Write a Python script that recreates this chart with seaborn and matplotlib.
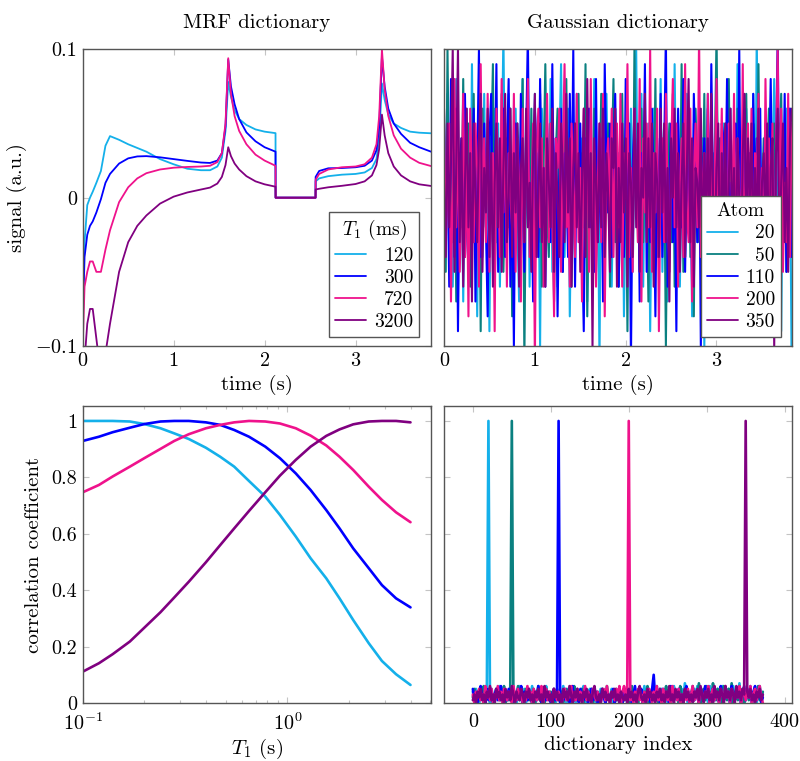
import numpy as np
import pandas as pd
import matplotlib
matplotlib.use("Agg")
import matplotlib.pyplot as plt
from matplotlib.ticker import NullFormatter
import seaborn as sns

# ---------------- data ----------------
# MRF dictionary signals (a.u.) sampled at these times (s)
mrf_time = [0, 0.02, 0.05, 0.08, 0.11, 0.15, 0.2, 0.25, 0.3, 0.4, 0.5, 0.6, 0.7, 0.85,
            1.0, 1.15, 1.3, 1.4, 1.48, 1.53, 1.57, 1.6, 1.63, 1.67, 1.72, 1.8, 1.9, 2.0,
            2.12, 2.121, 2.56, 2.561, 2.6, 2.7, 2.85, 3.0, 3.1, 3.18, 3.23, 3.26, 3.29,
            3.32, 3.36, 3.42, 3.5, 3.6, 3.7, 3.83]
mrf_t1_labels = ["120", "300", "720", "3200"]
mrf_120 = [-0.065, -0.03, -0.005, 0.0, 0.004, 0.01, 0.018, 0.035, 0.0415, 0.039, 0.036,
           0.0335, 0.031, 0.026, 0.0225, 0.0195, 0.0185, 0.0185, 0.021, 0.027, 0.045, 0.078,
           0.068, 0.059, 0.053, 0.049, 0.046, 0.0445, 0.0435, 0.0, 0.0, 0.011, 0.013, 0.0145,
           0.0155, 0.016, 0.017, 0.02, 0.026, 0.04, 0.077, 0.066, 0.056, 0.05, 0.047, 0.0445,
           0.0438, 0.0434]
mrf_300 = [-0.085, -0.04, -0.025, -0.019, -0.016, -0.01, -0.001, 0.01, 0.016, 0.023, 0.0265,
           0.0278, 0.028, 0.0272, 0.026, 0.0248, 0.0237, 0.0234, 0.025, 0.03, 0.048, 0.093,
           0.075, 0.063, 0.053, 0.044, 0.038, 0.034, 0.031, 0.0, 0.0, 0.014, 0.018, 0.0198,
           0.02, 0.0205, 0.0215, 0.025, 0.032, 0.048, 0.095, 0.075, 0.06, 0.05, 0.043, 0.037,
           0.034, 0.031]
mrf_720 = [-0.1, -0.06, -0.05, -0.043, -0.043, -0.05, -0.05, -0.035, -0.022, -0.003, 0.007,
           0.013, 0.0165, 0.019, 0.0202, 0.0207, 0.021, 0.0215, 0.024, 0.03, 0.05, 0.094,
           0.07, 0.055, 0.045, 0.036, 0.029, 0.025, 0.0215, 0.0, 0.0, 0.012, 0.016, 0.019,
           0.0205, 0.021, 0.0225, 0.027, 0.036, 0.055, 0.1, 0.073, 0.055, 0.042, 0.033, 0.027,
           0.0235, 0.0213]
mrf_3200 = [-0.16, -0.11, -0.085, -0.075, -0.075, -0.095, -0.12, -0.105, -0.085, -0.05, -0.03,
            -0.019, -0.012, -0.004, 0.0007, 0.0035, 0.0055, 0.0068, 0.0095, 0.014, 0.022, 0.034,
            0.028, 0.023, 0.019, 0.0145, 0.011, 0.009, 0.0074, 0.0, 0.0, 0.0055, 0.006, 0.007,
            0.008, 0.0092, 0.011, 0.015, 0.022, 0.033, 0.056, 0.042, 0.03, 0.021, 0.015, 0.011,
            0.009, 0.0079]

# Gaussian dictionary atoms (signal in units of 0.01 a.u.), spanning 0..3.83 s
gauss_duration = 3.83
gauss_scale = 0.01
atom_labels = ["20", "50", "110", "200", "350"]
gauss_20 = [-4, 3, 7, -2, 5, -6, 1, 8, -3, 0, 4, -7, 2, 6, -1, -5, 9, -3, 2, -8,
            5, 1, -4, 7, -2, 3, -9, 4, 0, 6, -3, 5, -6, 2, 11, -1, -4, 7, 3, -5,
            1, 6, -2, -7, 4, 8, -3, 0, 5, -6, 2, -1, 7, -4, 3, -10, 6, 1, -3, 5,
            -2, 8, -5, 0, 4, -6, 3, 9, -1, -4, 2, 6, -8, 1, 5, -3, 7, -2, 0, 4,
            -5, 3, -7, 6, 1, -2, 8, -4, 2, -11, 5, 0, -3, 7, -1, 4, -6, 2, 6, -3,
            3, -2, 5, -8, 1, 4, -1, 6, -5, 2, 10, -3, 0, 7, -6, 3, -2, 5, -9, 1,
            6, -4, 2, -1, 8, -5, 3, 0, -7, 4, 1, -3, 9, -2, 5, -6, 2, 4, -4, 7,
            -1, 3, -8, 5, 0, -3, 6, -2, 4, -10, 2, 7, -5, 1, 3, -6, 8, -1, 4, -3,
            5, -7, 2, 0, 6, -4, 3, -2, 9, -5, 1, 4, -8, 6, -1, 2, -3, 7, -6, 11,
            -2, 4, -5, 3, 1, -7, 6, -3, 2, 8, -4, 0, 5, -9, 3, -1, 6, -2, 4, -12]
gauss_50 = [2, -5, 10, -1, 4, -3, 6, -7, 1, 3, -2, 8, -4, 0, 5, -6, 2, 7, -3, -1,
            4, -9, 6, 1, -2, 5, -4, 3, 9, -6, 0, 2, -3, 7, -5, 1, 4, -2, 6, -8,
            3, -1, 5, 2, -4, 8, -11, 3, 0, -2, 6, -5, 4, 1, -3, 7, -6, 2, 9, -1,
            -4, 5, 0, -7, 3, 6, -2, 1, -5, 4, 8, -3, 2, -6, 0, 5, -1, 7, -4, 3,
            -2, 9, -8, 1, 4, -3, 6, -5, 2, 0, 7, -4, 3, -1, 5, -6, 2, 8, -3, 4,
            -6, 1, 7, -2, 3, -9, 5, 0, -4, 10, -1, 2, -5, 6, -3, 4, 1, -7, 3, 5,
            -2, 8, -4, 0, 6, -1, 3, -10, 2, 5, -3, 7, -6, 1, 4, -2, 9, -5, 3, 0,
            5, -4, 2, -8, 6, 1, -3, 4, -1, 7, -5, 2, 0, 6, -7, 3, 11, -2, 4, -6,
            1, 5, -3, 8, -2, 0, 4, -9, 6, -1, 3, -5, 2, 7, -4, 1, -6, 5, 3, -2,
            9, -3, 0, 4, -7, 2, 6, -1, -4, 5, 1, -8, 3, 7, -2, 4, -5, 0, 6, -3]
gauss_110 = [5, -2, 3, -6, 8, 1, -4, 6, -9, 2, 4, -3, 7, -1, -5, 3, 0, 6, -7, 2,
             10, -4, 1, 5, -2, -8, 4, 7, -3, 0, 9, -5, 2, -1, 6, -4, 3, 8, -6, 1,
             -10, 5, 2, -3, 7, 0, -5, 4, 11, -2, 1, -7, 6, 3, -4, 8, -1, 2, -6, 5,
             0, -3, 9, -2, 4, -8, 1, 6, -5, 3, 2, -4, 7, -1, 10, -6, 3, 0, 5, -3,
             -9, 4, 2, 6, -2, 1, -5, 8, -3, 0, 4, -7, 9, 2, -1, 5, -4, 3, 7, -2,
             -6, 3, 1, -4, 8, -2, 5, -11, 2, 6, -1, 4, -7, 3, 0, 9, -5, 2, -3, 6,
             1, -8, 4, -2, 7, -4, 3, 11, -6, 1, 5, -3, 2, -9, 6, 0, -2, 8, -5, 3,
             -1, 4, -6, 7, 2, -3, 5, -10, 1, 4, -2, 6, -4, 9, 0, -5, 3, 2, -7, 5,
             4, -1, 8, -3, 1, -6, 3, 5, -2, 10, -4, 0, 6, -8, 2, 3, -5, 7, -1, 4,
             -3, 6, -9, 2, 5, -4, 1, 8, -2, -6, 3, 11, -3, 4, -1, 7, -5, 2, 6, -4]
gauss_200 = [6, -3, 1, 5, -7, 2, 8, -2, 4, -5, 0, 7, -4, 3, -8, 6, 1, -3, 5, 2,
             -6, 9, -1, 4, -3, 7, -5, 0, 3, -9, 6, 2, -4, 8, -1, 5, -6, 3, 0, -2,
             7, -5, 4, 1, -7, 6, -3, 2, 8, -4, 0, 5, -11, 3, 6, -2, 4, -6, 1, 7,
             -3, 5, -1, -8, 4, 2, 6, -5, 3, 9, -2, 0, -6, 5, 1, -4, 7, -3, 2, -7,
             6, 0, 4, -5, 8, -2, 3, -6, 1, 5, -3, 7, -8, 2, 4, -1, 6, -4, 3, 5,
             -2, 7, -6, 3, 0, 9, -4, 2, -5, 6, 1, -3, 8, -7, 4, -1, 5, -2, 10, -5,
             3, -1, 6, -9, 2, 4, -3, 7, 0, -5, 3, 8, -2, 5, -6, 1, 4, -4, 9, -1,
             -3, 6, -7, 2, 5, -2, 11, -4, 1, 3, -6, 7, -1, 4, -5, 2, 8, -3, 0, 6,
             -4, 2, -8, 5, 3, -1, 7, -5, 4, 0, -3, 9, -6, 2, 5, -2, 6, -9, 3, 1,
             7, -4, 2, -6, 8, -1, 4, -3, 5, -7, 3, 10, -2, 6, -5, 1, -3, 7, -4, 5]
gauss_350 = [1, -4, 5, -2, 3, 10, -5, 2, 10, -3, 4, -6, 1, 6, -2, 3, -7, 5, 0, -3,
             4, 7, -5, 2, -1, 6, -4, 3, -6, 1, 5, -2, 4, -5, 2, 7, -3, 0, 6, -4,
             3, -1, 5, -6, 2, 4, -3, 6, -2, 1, -5, 3, 7, -4, 0, 5, -3, 2, -6, 4,
             1, -2, 6, -5, 3, 0, -4, 5, 2, -3, 7, -1, 4, -6, 2, 5, -2, 3, -5, 1,
             6, -4, 8, -2, 3, -10, 4, 1, -3, 5, -2, 6, -4, 3, 0, -5, 4, 2, 6, -6,
             2, -3, 5, -1, 4, -6, 3, 1, -4, 6, -2, 5, -5, 2, 0, 7, -3, 4, -2, 5,
             -6, 3, 1, -4, 6, -1, 5, -3, 2, -7, 4, 0, 6, -2, 3, -5, 1, 5, -4, 2,
             8, -3, 4, -6, 2, 1, -2, 6, -5, 3, -1, 4, -3, 7, 0, -4, 2, 5, -6, 3,
             -2, 5, -4, 1, 6, -3, 2, -5, 4, 0, -6, 3, 7, -2, 4, -1, 5, -4, 2, -3,
             6, -5, 1, 3, -2, 5, -7, 2, 4, -10, 3, 6, -4, 1, 5, -3, 2, -5, 4, 6]

# MRF correlation coefficient vs T1 (s)
corr_t1 = [0.1, 0.12, 0.14, 0.17, 0.2, 0.24, 0.28, 0.33, 0.4, 0.47, 0.55, 0.65, 0.78,
           0.92, 1.1, 1.3, 1.55, 1.8, 2.1, 2.5, 2.9, 3.4, 4.0]
corr_120 = [1.0, 1.0, 1.0, 0.998, 0.989, 0.974, 0.956, 0.936, 0.905, 0.873, 0.838, 0.787,
            0.732, 0.667, 0.590, 0.513, 0.442, 0.371, 0.294, 0.212, 0.149, 0.102, 0.064]
corr_300 = [0.929, 0.944, 0.960, 0.976, 0.989, 0.998, 1.0, 1.0, 0.995, 0.986, 0.968, 0.944,
            0.909, 0.868, 0.814, 0.755, 0.684, 0.619, 0.548, 0.478, 0.418, 0.371, 0.339]
corr_720 = [0.747, 0.773, 0.803, 0.838, 0.868, 0.901, 0.929, 0.953, 0.974, 0.986, 0.995, 1.0,
            0.998, 0.991, 0.974, 0.948, 0.913, 0.873, 0.826, 0.767, 0.720, 0.676, 0.641]
corr_3200 = [0.111, 0.141, 0.173, 0.218, 0.267, 0.322, 0.374, 0.430, 0.499, 0.560, 0.619,
             0.681, 0.747, 0.806, 0.862, 0.909, 0.947, 0.970, 0.988, 0.998, 1.0, 1.0, 0.995]

# Gaussian correlation vs dictionary index (units of 0.01), every 2nd index
index_step = 2
atoms = [20, 50, 110, 200, 350]
gcorr_20 = [4, 1, 5, 2, 0, 3, 5, 1, 4, 6, 3, 0, 5, 2, 1, 4, 3, 6, 1, 5,
            2, 0, 4, 3, 1, 5, 2, 4, 0, 3, 6, 1, 3, 5, 0, 2, 4, 1, 6, 3,
            0, 4, 2, 5, 1, 3, 0, 6, 2, 4, 1, 3, 5, 0, 2, 4, 1, 3, 6, 2,
            0, 5, 3, 1, 4, 2, 0, 5, 3, 1, 4, 6, 2, 0, 3, 5, 1, 4, 2, 0,
            3, 1, 5, 2, 4, 0, 3, 1, 2, 5, 0, 3, 1, 4, 2, 0, 3, 5, 1, 2,
            4, 0, 3, 1, 5, 2, 0, 4, 3, 1, 6, 2, 0, 5, 3, 1, 4, 2, 6, 0,
            3, 5, 1, 4, 2, 0, 5, 3, 1, 6, 2, 4, 0, 3, 5, 1, 7, 2, 0, 4,
            3, 1, 5, 2, 6, 0, 4, 3, 1, 5, 2, 0, 6, 3, 1, 4, 2, 5, 0, 3,
            6, 1, 4, 2, 5, 0, 3, 6, 1, 4, 2, 7, 0, 3, 5, 1, 4, 2, 6, 1,
            3, 5, 0, 4, 6, 2, 3]
gcorr_50 = [2, 5, 0, 3, 1, 4, 2, 6, 0, 3, 5, 1, 4, 2, 0, 5, 3, 1, 4, 2,
            6, 0, 3, 1, 5, 2, 4, 0, 3, 6, 1, 4, 2, 0, 5, 3, 1, 4, 2, 5,
            0, 3, 6, 1, 2, 4, 0, 5, 3, 1, 4, 2, 0, 3, 5, 1, 2, 4, 0, 3,
            5, 1, 4, 2, 0, 6, 3, 1, 4, 2, 5, 0, 3, 1, 4, 2, 5, 0, 3, 1,
            4, 2, 0, 5, 3, 1, 6, 2, 0, 4, 3, 1, 5, 2, 0, 3, 4, 1, 5, 2,
            0, 3, 6, 1, 4, 2, 0, 5, 3, 1, 4, 2, 6, 0, 3, 5, 1, 4, 2, 0,
            5, 3, 1, 4, 6, 2, 0, 3, 5, 1, 4, 2, 0, 6, 3, 1, 5, 2, 4, 0,
            3, 6, 1, 4, 2, 7, 0, 3, 5, 1, 6, 2, 4, 0, 7, 3, 1, 5, 2, 4,
            0, 6, 3, 1, 5, 2, 7, 0, 4, 3, 1, 6, 2, 5, 0, 3, 4, 1, 5, 2,
            4, 0, 3, 6, 1, 2, 4]
gcorr_110 = [5, 1, 3, 0, 4, 6, 2, 3, 0, 5, 1, 4, 2, 0, 3, 5, 1, 4, 6, 2,
             0, 3, 1, 5, 2, 4, 0, 3, 1, 5, 2, 6, 0, 4, 3, 1, 5, 2, 0, 4,
             3, 1, 6, 2, 0, 5, 3, 1, 4, 2, 0, 3, 5, 1, 4, 2, 0, 3, 1, 5,
             2, 4, 0, 3, 6, 1, 4, 2, 0, 5, 3, 1, 4, 2, 0, 3, 5, 1, 2, 4,
             0, 3, 1, 5, 2, 0, 4, 3, 1, 2, 5, 0, 3, 4, 1, 2, 0, 5, 3, 1,
             4, 2, 0, 3, 6, 1, 4, 2, 5, 0, 3, 1, 4, 2, 0, 5, 10, 1, 4, 2,
             0, 3, 5, 1, 4, 2, 0, 6, 3, 1, 4, 2, 5, 0, 3, 1, 4, 6, 2, 0,
             3, 5, 1, 4, 2, 0, 5, 3, 1, 6, 2, 4, 0, 3, 5, 1, 4, 2, 0, 6,
             3, 1, 5, 2, 4, 0, 6, 3, 1, 5, 2, 4, 0, 3, 6, 1, 5, 2, 3, 0,
             4, 6, 1, 3, 5, 0, 2]
gcorr_200 = [3, 0, 4, 2, 5, 1, 3, 0, 6, 2, 4, 1, 5, 0, 3, 2, 6, 1, 4, 0,
             5, 3, 1, 4, 2, 0, 6, 3, 1, 5, 2, 4, 0, 3, 1, 6, 2, 4, 0, 5,
             3, 1, 4, 2, 6, 0, 3, 5, 1, 4, 2, 0, 5, 3, 1, 4, 2, 0, 3, 5,
             1, 4, 2, 6, 0, 3, 1, 5, 2, 4, 0, 3, 6, 1, 4, 2, 0, 5, 3, 1,
             4, 2, 0, 3, 5, 1, 6, 2, 0, 4, 3, 1, 5, 2, 6, 0, 4, 6, 3, 2,
             5, 1, 3, 0, 4, 2, 5, 1, 3, 0, 4, 2, 1, 5, 3, 0, 4, 2, 6, 1,
             3, 0, 5, 2, 4, 1, 3, 0, 6, 2, 4, 1, 5, 0, 3, 2, 4, 1, 5, 0,
             3, 6, 1, 4, 2, 0, 5, 3, 1, 4, 2, 6, 0, 3, 5, 1, 4, 2, 0, 5,
             3, 1, 6, 2, 4, 0, 5, 3, 1, 4, 2, 6, 0, 3, 5, 1, 4, 2, 6, 0,
             3, 5, 1, 4, 6, 2, 0]
gcorr_350 = [1, 3, 0, 4, 2, 5, 1, 3, 0, 4, 2, 6, 1, 3, 0, 5, 2, 4, 1, 3,
             0, 5, 2, 4, 1, 6, 3, 0, 4, 2, 1, 5, 3, 0, 4, 2, 5, 1, 3, 0,
             4, 2, 5, 1, 3, 0, 6, 2, 4, 1, 3, 0, 5, 2, 4, 1, 3, 0, 5, 2,
             4, 1, 6, 3, 0, 4, 2, 5, 1, 3, 0, 4, 2, 5, 1, 3, 0, 4, 6, 2,
             1, 3, 0, 5, 2, 4, 1, 3, 0, 4, 2, 5, 1, 3, 0, 4, 2, 1, 3, 0,
             5, 2, 4, 1, 3, 0, 4, 6, 2, 1, 3, 0, 5, 2, 4, 1, 3, 0, 4, 2,
             5, 1, 3, 0, 4, 2, 6, 1, 3, 0, 5, 2, 4, 1, 3, 0, 5, 2, 4, 1,
             3, 0, 4, 2, 5, 1, 6, 3, 0, 4, 2, 5, 1, 3, 0, 6, 2, 4, 1, 5,
             3, 0, 6, 2, 4, 1, 5, 3, 0, 6, 2, 4, 1, 5, 3, 0, 4, 2, 5, 1,
             3, 0, 4, 2, 5, 1, 3]

# ---------------- style ----------------
sns.set_theme(style="white")
plt.rcParams["font.family"] = ["cmr10", "DejaVu Serif"]
plt.rcParams["mathtext.fontset"] = "cm"
plt.rcParams["axes.formatter.use_mathtext"] = True
plt.rcParams["text.color"] = "black"
plt.rcParams["axes.labelcolor"] = "black"

c_cyan = "#14b0ea"
c_teal = "#0a8080"
c_blue = "#0000ff"
c_mag = "#ef128c"
c_purple = "#800080"
mrf_colors = [c_cyan, c_blue, c_mag, c_purple]
gauss_colors = [c_cyan, c_teal, c_blue, c_mag, c_purple]

FS_TICK = 14.5
FS_LAB = 15
FS_LEG = 14
fig = plt.figure(figsize=(8, 7.61), dpi=100)
ax1 = fig.add_axes([0.1034, 0.5453, 0.4354, 0.3899])
ax2 = fig.add_axes([0.5550, 0.5453, 0.4346, 0.3899])
ax3 = fig.add_axes([0.1034, 0.0762, 0.4354, 0.3903])
ax4 = fig.add_axes([0.5550, 0.0762, 0.4346, 0.3903])


def style(ax, labelleft=True):
    for s in ax.spines.values():
        s.set_color("#555555")
        s.set_linewidth(1.0)
    ax.tick_params(which="both", direction="in", top=True, right=True, bottom=True,
                   left=True, color="#c4c4c4", width=0.8, labelsize=FS_TICK,
                   labelcolor="black", labelleft=labelleft, pad=4)
    ax.tick_params(which="major", length=4.5)
    ax.tick_params(which="minor", length=2.5)


def right_aligned_legend(ax, title, anchor):
    handles = ax.get_lines()
    labels = [h.get_label() for h in handles]
    leg = ax.legend(handles, labels, title=title, loc="lower right",
                    bbox_to_anchor=anchor, borderaxespad=0, frameon=True,
                    fancybox=False, framealpha=1, edgecolor="#555555",
                    fontsize=FS_LEG, title_fontsize=FS_LEG, handlelength=1.6,
                    handletextpad=0.4, labelspacing=0.22, borderpad=0.3)
    leg.get_frame().set_linewidth(1.0)
    for lh in leg.get_lines():
        lh.set_linewidth(1.3)
    fig.canvas.draw()
    r = fig.canvas.get_renderer()
    widths = [t.get_window_extent(r).width for t in leg.get_texts()]
    wmax = max(widths)
    rows = []
    for col in leg._legend_handle_box.get_children():
        rows.extend(col.get_children())
    for row, w in zip(rows, widths):
        row.sep = row.sep + (wmax - w) * 72.0 / fig.dpi
    return leg


# --- top left: MRF dictionary ---
mrf_vals = [mrf_120, mrf_300, mrf_720, mrf_3200]
df1 = pd.DataFrame({
    "t": np.tile(mrf_time, len(mrf_vals)),
    "signal": np.concatenate(mrf_vals),
    "T1": np.repeat(mrf_t1_labels, len(mrf_time)),
})
sns.lineplot(data=df1, x="t", y="signal", hue="T1", hue_order=mrf_t1_labels,
             palette=mrf_colors, estimator=None, sort=False, legend=False,
             linewidth=1.3, ax=ax1)
for line, lab in zip(ax1.get_lines(), mrf_t1_labels):
    line.set_label(lab)
ax1.set_xlim(0, 3.83)
ax1.set_ylim(-0.1, 0.1)
ax1.set_xticks([0, 1, 2, 3])
ax1.set_xticklabels(["0", "1", "2", "3"])
ax1.set_yticks([-0.1, 0, 0.1])
ax1.set_yticklabels([r"$-0.1$", "0", "0.1"])
ax1.set_xlabel("time (s)", fontsize=FS_LAB, labelpad=4)
ax1.set_ylabel("signal (a.u.)", fontsize=FS_LAB, labelpad=6)
ax1.set_title("MRF dictionary", fontsize=FS_LAB, pad=15)
style(ax1)

# --- top right: Gaussian dictionary ---
gauss_vals = [gauss_20, gauss_50, gauss_110, gauss_200, gauss_350]
frames = []
for lab, vals in zip(atom_labels, gauss_vals):
    frames.append(pd.DataFrame({
        "t": np.linspace(0, gauss_duration, len(vals)),
        "signal": np.asarray(vals) * gauss_scale,
        "atom": lab,
    }))
df2 = pd.concat(frames, ignore_index=True)
sns.lineplot(data=df2, x="t", y="signal", hue="atom", hue_order=atom_labels,
             palette=gauss_colors, estimator=None, sort=False, legend=False,
             linewidth=1.5, ax=ax2)
for line, lab in zip(ax2.get_lines(), atom_labels):
    line.set_label(lab)
ax2.set_xlim(0, 3.83)
ax2.set_ylim(-0.1, 0.1)
ax2.set_xticks([0, 1, 2, 3])
ax2.set_xticklabels(["0", "1", "2", "3"])
ax2.set_yticks([-0.1, 0, 0.1])
ax2.set_xlabel("time (s)", fontsize=FS_LAB, labelpad=4)
ax2.set_ylabel("")
ax2.set_title("Gaussian dictionary", fontsize=FS_LAB, pad=15)
style(ax2, labelleft=False)

# --- bottom left: correlation vs T1 ---
corr_vals = [corr_120, corr_300, corr_720, corr_3200]
df3 = pd.DataFrame({
    "T1s": np.tile(corr_t1, len(corr_vals)),
    "corr": np.concatenate(corr_vals),
    "T1": np.repeat(mrf_t1_labels, len(corr_t1)),
})
ax3.set_xscale("log")
sns.lineplot(data=df3, x="T1s", y="corr", hue="T1", hue_order=mrf_t1_labels,
             palette=mrf_colors, estimator=None, sort=False, legend=False,
             linewidth=1.9, ax=ax3)
ax3.set_xlim(0.1, 5.04)
ax3.set_ylim(0, 1.053)
ax3.set_yticks([0, 0.2, 0.4, 0.6, 0.8, 1.0])
ax3.set_yticklabels(["0", "0.2", "0.4", "0.6", "0.8", "1"])
ax3.xaxis.set_minor_formatter(NullFormatter())
ax3.set_xlabel(r"$T_1$ (s)", fontsize=FS_LAB, labelpad=2)
ax3.set_ylabel("correlation coefficient", fontsize=FS_LAB, labelpad=6)
style(ax3)
ax3.tick_params(axis="x", which="both", pad=7)

# --- bottom right: correlation vs dictionary index ---
gcorr_vals = [gcorr_20, gcorr_50, gcorr_110, gcorr_200, gcorr_350]
frames = []
for lab, atom, vals in zip(atom_labels, atoms, gcorr_vals):
    v = np.asarray(vals, dtype=float) * 0.01
    v[atom // index_step] = 1.0
    frames.append(pd.DataFrame({
        "idx": np.arange(len(v)) * index_step,
        "corr": v,
        "atom": lab,
    }))
df4 = pd.concat(frames, ignore_index=True)
sns.lineplot(data=df4, x="idx", y="corr", hue="atom", hue_order=atom_labels,
             palette=gauss_colors, estimator=None, sort=False, legend=False,
             linewidth=1.9, ax=ax4)
ax4.set_xlim(-37, 409)
ax4.set_ylim(0, 1.053)
ax4.set_xticks([0, 100, 200, 300, 400])
ax4.set_xticklabels(["0", "100", "200", "300", "400"])
ax4.set_yticks([0, 0.2, 0.4, 0.6, 0.8, 1.0])
ax4.set_xlabel("dictionary index", fontsize=FS_LAB, labelpad=4)
ax4.set_ylabel("")
style(ax4, labelleft=False)
ax4.tick_params(axis="x", which="both", pad=7)

# legends
right_aligned_legend(ax1, r"$T_1$ (ms)", (1 - 12 / 348, 9 / 297))
right_aligned_legend(ax2, "Atom", (1 - 11 / 348, 9 / 297))

fig.savefig("out.png", dpi=100)
